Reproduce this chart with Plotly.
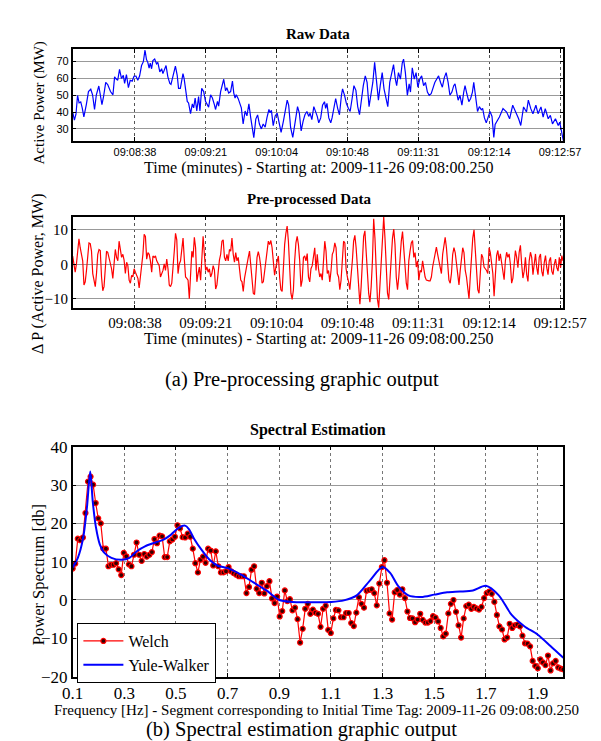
import plotly.graph_objects as go

# ---------------- DATA ----------------
# Raw data: (seconds after 09:08:00.250, MW)
raw_samples = [
(0.1,39.6),(1.05,35.2),(2.0,38.7),(2.96,49.8),(3.9,45.4),(4.9,46.0),(5.8,42.5),(6.8,37.1),(8.3,44.4),(9.6,52.1),
(11.0,53.5),(12.1,50.2),(13.3,41.5),(14.4,50.2),(15.9,55.4),(17.1,48.3),(17.8,44.4),(18.8,49.2),(20.1,57.5),(21.3,56.3),
(22.0,54.0),(23.0,52.1),(24.5,50.2),(25.5,60.8),(26.2,59.8),(27.4,58.8),(28.5,65.2),(29.7,59.8),(30.8,61.7),(31.6,56.9),
(32.7,62.1),(33.9,54.4),(35.0,58.8),(36.2,58.3),(37.3,61.2),(38.5,61.3),(39.6,58.8),(40.7,61.3),(41.9,67.5),(43.0,69.8),
(44.0,76.7),(44.9,71.0),(45.7,69.4),(46.5,66.0),(47.2,69.0),(48.0,65.6),(48.8,70.4),(49.9,71.3),(51.0,68.5),(51.8,69.4),
(53.0,63.7),(54.1,65.6),(54.9,62.7),(56.0,65.6),(56.8,67.5),(57.9,60.8),(59.1,56.9),(59.8,56.3),(60.6,59.8),(61.7,63.7),
(62.5,67.1),(63.6,61.7),(64.4,54.0),(65.5,54.0),(66.3,58.8),(67.1,62.7),(67.8,59.8),(69.0,52.1),(69.7,46.3),(70.5,45.4),
(71.7,39.0),(72.8,44.8),(73.6,42.5),(74.5,48.3),(75.5,40.6),(76.6,49.2),(77.4,40.6),(78.5,54.0),(79.7,52.1),(80.8,46.3),
(81.6,44.4),(82.7,42.9),(83.9,50.2),(85.0,48.3),(86.2,44.4),(86.9,41.5),(88.1,46.3),(88.8,43.5),(90.0,52.1),(91.1,56.3),
(91.9,59.4),(93.0,52.5),(93.8,54.4),(94.9,51.2),(96.1,52.1),(97.2,58.3),(98.0,51.2),(98.8,48.3),(99.5,50.2),(100.7,47.9),
(101.4,46.3),(102.6,42.5),(103.7,32.9),(104.9,40.6),(106.0,37.7),(107.2,44.8),(108.3,36.7),(109.1,31.0),(110.2,24.8),(111.4,35.8),
(112.5,38.3),(113.6,32.9),(114.8,30.0),(115.9,32.9),(117.1,31.0),(118.2,36.7),(119.4,41.5),(120.1,39.6),(120.9,41.0),(122.0,31.9),
(123.2,37.7),(124.4,39.3),(125.3,34.6),(126.8,27.9),(128.2,34.6),(129.1,40.3),(130.5,47.0),(131.4,44.1),(132.6,30.7),(133.9,25.0),
(135.2,34.6),(136.8,43.2),(137.9,39.3),(139.0,28.8),(140.2,34.6),(141.3,38.4),(142.5,40.3),(143.6,37.4),(144.4,39.3),(145.5,35.5),
(146.7,43.2),(147.8,40.3),(148.8,37.4),(149.7,33.6),(150.9,36.5),(152.0,44.1),(153.2,46.1),(153.9,42.2),(154.7,45.1),(155.8,36.5),
(157.0,33.6),(157.8,36.5),(158.9,41.3),(160.0,48.0),(161.2,42.2),(162.3,38.4),(163.5,49.9),(164.2,53.7),(165.4,49.9),(166.5,45.1),
(167.7,42.2),(168.8,40.3),(170.0,48.0),(171.1,55.6),(172.3,52.8),(173.4,43.2),(174.5,38.4),(175.7,48.0),(176.8,55.6),(178.0,61.4),
(179.1,57.5),(180.3,43.2),(181.4,49.9),(182.6,57.5),(183.7,69.4),(184.9,57.5),(186.0,47.0),(187.1,55.6),(188.3,63.3),(189.4,53.7),
(190.6,48.0),(191.7,43.2),(192.9,57.5),(194.0,62.3),(195.2,68.1),(196.3,59.5),(197.1,55.6),(198.2,63.3),(199.4,59.5),(200.5,69.0),
(201.3,71.3),(202.4,63.3),(203.6,49.9),(204.7,56.6),(205.5,51.8),(206.6,66.2),(207.8,59.5),(208.9,63.3),(210.0,54.7),(211.2,59.5),
(212.3,61.4),(213.5,55.6),(214.6,57.5),(215.8,51.8),(216.9,49.9),(218.1,50.8),(219.2,54.7),(220.3,57.5),(221.5,59.5),(222.6,61.4),
(223.8,57.5),(224.9,54.7),(226.1,60.4),(227.2,63.3),(228.4,57.5),(229.5,49.9),(230.7,51.8),(231.8,55.6),(232.6,56.6),(233.3,53.7),
(234.5,47.0),(235.6,49.9),(236.8,44.1),(237.9,51.8),(238.7,55.6),(239.8,50.8),(241.0,46.1),(242.1,48.0),(243.2,51.8),(244.0,57.5),
(245.2,48.0),(246.3,40.3),(247.4,43.2),(248.6,41.3),(249.4,42.2),(250.5,36.5),(251.6,33.6),(252.8,37.4),(253.9,40.3),(255.1,37.4),
(256.2,25.0),(257.0,32.6),(259.6,37.0),(261.8,42.0),(264.0,40.0),(265.8,36.0),(267.7,44.0),(269.5,40.0),(271.3,36.0),(272.6,32.0),
(274.3,43.0),(276.1,40.0),(277.2,47.0),(278.7,42.0),(280.0,39.0),(281.8,44.0),(283.1,39.0),(284.9,43.0),(286.2,37.0),(287.5,42.0),
(289.3,36.0),(290.6,38.0),(291.9,33.0),(293.7,36.0),(295.4,32.0),(296.3,34.0),(297.6,28.0),(298.5,23.0),
]

# Pre-processed data, sampled every pre_dt seconds from the start
pre_dt = 0.763
pre_dp = [
2.4,-0.4,-2.3,0.1,3.8,7.4,4.8,2.9,1.0,-6.0,-5.1,-1.8,2.9,6.2,6.0,3.8,-2.7,-5.1,-6.5,-2.7,
2.9,4.3,4.0,-3.7,-7.7,-6.5,-1.3,3.8,3.4,2.0,0.1,-1.3,-4.1,0.6,4.3,2.0,1.0,6.7,3.8,2.0,
2.9,1.2,-2.7,0.6,-0.4,-4.6,-5.5,-3.2,-3.7,-1.3,-2.3,-3.2,-4.1,-6.9,-3.7,1.0,2.9,8.7,8.1,1.5,
3.4,2.9,1.0,-2.3,2.4,2.0,2.4,1.0,0.1,-0.4,-3.7,-2.7,-1.8,0.1,-1.8,1.5,-1.3,-6.0,-6.5,-5.5,
-1.8,3.8,9.0,7.1,-2.7,0.1,1.0,3.8,7.6,1.5,-3.7,-4.1,-4.6,-10.0,-3.7,3.8,2.0,7.8,4.8,-5.1,
-2.7,-0.8,-4.6,2.0,8.1,2.9,-1.8,-0.8,-2.3,-1.3,-3.7,-2.7,-0.4,-1.6,-7.2,-6.0,-1.8,1.2,2.9,6.7,
7.1,2.0,1.0,2.9,1.0,4.3,3.8,7.6,2.9,0.6,3.4,1.0,2.0,-0.8,-4.6,-5.1,-7.9,-4.1,-1.8,1.0,
2.0,3.8,0.1,-4.1,-8.4,-8.8,-2.7,2.0,3.7,2.0,-0.8,-5.5,-5.1,-1.8,1.0,3.8,6.7,5.7,6.9,4.8,
0.1,-3.2,-0.8,1.0,2.4,
-3.7,-7.4,-7.9,0.1,5.7,9.0,11.1,6.7,-1.8,-8.4,-10.2,-7.4,1.0,6.2,8.1,5.7,1.0,-6.5,-4.6,2.0,
2.4,1.0,3.1,-3.7,-5.1,-1.3,-0.4,2.9,4.8,-1.8,2.9,-1.3,-3.7,-2.7,-4.6,1.0,6.7,3.8,-2.7,-1.8,
-5.1,-1.8,2.9,3.8,6.2,4.8,-2.7,-3.7,-7.4,-4.6,2.9,6.7,6.2,-1.3,-3.7,-5.1,-7.4,-3.7,1.0,6.7,
8.4,4.8,-1.8,-6.5,-11.6,-6.5,3.8,8.1,9.7,3.8,-3.7,-8.4,-11.0,-6.5,1.0,13.2,7.6,-0.8,-10.2,-12.6,
-5.5,1.0,9.5,13.7,7.6,-1.8,-8.4,-10.2,-3.7,3.8,7.6,10.2,5.7,-3.7,-7.4,-3.7,2.9,6.7,9.5,4.8,
-2.7,-5.5,-7.4,1.0,3.8,6.2,6.9,2.0,3.4,-0.8,1.0,-4.6,-1.8,-2.3,1.0,-1.8,-3.7,-4.6,-4.8,-4.8,
-4.8,-3.7,-0.8,1.0,2.9,5.0,2.9,1.0,-0.8,-2.7,2.9,6.2,7.8,4.8,-1.8,-4.6,-5.5,-2.7,2.9,4.8,
3.4,0.1,-3.7,-6.0,-1.8,2.9,4.8,3.4,-1.8,-3.7,-7.4,-10.0,-3.7,2.0,7.6,10.0,2.9,-2.7,-7.4,-8.4,
-1.8,2.9,2.0,-0.8,-1.3,-1.8,-2.7,4.8,3.4,1.0,-2.7,-9.3,
-4.0,2.5,4.0,1.0,3.0,0.5,-2.0,-4.5,1.0,3.5,2.0,3.0,0.0,-5.5,-4.0,0.0,4.0,2.0,-1.0,3.5,
5.5,0.0,-4.0,-2.0,2.0,-3.0,-5.0,1.0,3.5,2.0,-3.0,0.0,3.0,-1.0,-3.0,2.0,3.0,-2.0,-3.5,0.5,
2.5,-1.0,-3.0,1.0,2.0,-2.0,-3.0,0.0,1.5,-1.0,-2.0,2.0,-1.0,2.5,1.0,
]

time_tick_s = [37.9, 81.0, 124.1, 167.2, 210.3, 253.4, 296.5]
time_tick_labels = ["09:08:38", "09:09:21", "09:10:04", "09:10:48", "09:11:31", "09:12:14", "09:12:57"]

# Spectral estimation
welch_db = [
8.2,9.5,16.0,15.6,16.3,22.7,30.9,32.2,30.1,25.3,21.3,20.0,13.4,13.4,8.8,9.2,9.2,9.6,8.0,6.5,
12.3,11.4,9.3,8.8,11.8,15.0,11.8,10.2,12.0,11.3,11.8,12.5,15.9,14.8,16.8,16.6,11.2,11.2,15.3,15.8,
16.5,19.5,18.7,16.4,16.3,17.3,16.5,13.4,9.6,7.2,10.5,11.3,9.7,13.4,12.9,9.0,12.7,8.8,7.2,7.2,
7.5,8.6,7.5,7.0,6.6,6.2,6.2,6.2,1.8,3.4,7.9,8.8,2.9,1.8,4.5,1.7,3.6,4.9,0.4,-0.8,
0.9,-4.3,-2.9,2.5,-0.3,0.2,-2.7,-2.0,-5.0,-11.1,-7.5,-2.3,-1.0,-3.6,-2.5,-3.3,-3.6,-7.0,-2.3,-1.5,
-7.8,-8.6,-4.8,-2.6,-2.7,-4.5,-4.5,-3.4,-3.4,-6.0,-6.8,-3.3,0.7,-1.0,-2.0,2.4,2.6,2.8,1.8,-1.4,
4.3,8.6,10.4,4.5,-3.5,-5.1,2.0,2.6,1.4,2.8,0.5,-3.0,-4.7,-4.8,-5.8,-5.1,-3.6,-5.2,-5.9,-5.9,
-5.5,-4.2,-4.6,-5.6,-7.3,-9.5,-8.8,-3.5,-1.0,0.0,-3.1,-6.6,-9.8,-4.8,-1.6,-1.2,-2.3,-1.8,-2.2,-2.5,
-1.8,0.5,1.8,2.2,1.6,-0.5,-3.9,-6.9,-7.7,-10.3,-9.8,-6.2,-7.3,-6.6,-6.4,-6.9,-9.3,-11.3,-11.4,-12.1,
-15.9,-17.2,-17.8,-15.5,-16.3,-17.0,-14.5,-18.4,-16.5,-15.9,-17.6,-17.9,-18.1,
]
welch_f_start, welch_f_end = 0.1, 2.0

yw_f = [0.10,0.12,0.14,0.155,0.168,0.178,0.19,0.205,0.22,0.25,0.29,0.32,0.35,0.38,0.42,0.45,0.48,0.51,0.535,0.55,
        0.57,0.60,0.63,0.66,0.70,0.75,0.80,0.85,0.90,0.95,1.00,1.05,1.10,1.15,1.20,1.25,1.30,1.33,1.36,1.40,
        1.45,1.50,1.55,1.60,1.65,1.70,1.75,1.80,1.85,1.90,1.95,2.00]
yw_db = [8.5,11.0,16.0,24.0,33.5,25.5,19.0,14.5,12.5,11.0,10.5,11.0,12.8,14.0,15.0,15.7,17.0,18.8,19.4,18.5,
         16.0,13.0,10.5,9.0,8.3,6.7,4.6,2.5,0.0,-0.5,-0.6,-0.6,-0.5,-0.1,1.2,5.0,8.6,7.0,3.7,1.2,
         0.8,1.4,2.0,2.2,2.5,3.7,1.2,-3.9,-6.9,-9.0,-12.0,-15.1]

spec_ticks = [0.1, 0.3, 0.5, 0.7, 0.9, 1.1, 1.3, 1.5, 1.7, 1.9]

# ---------------- FIGURE ----------------
W, H = 601, 741
def px_x(x):
    return x / W
def px_y(y):
    return 1 - y / H

SERIF = "Times New Roman, Liberation Serif, Tinos, DejaVu Serif, serif"
SANS = "Arial, Liberation Sans, Arimo, Helvetica, sans-serif"

raw_t = [s[0] for s in raw_samples]
raw_v = [s[1] for s in raw_samples]
pre_t = [i * pre_dt for i in range(len(pre_dp))]
n = len(welch_db)
welch_f = [welch_f_start + (welch_f_end - welch_f_start) * i / (n - 1) for i in range(n)]

fig = go.Figure()
fig.add_trace(go.Scatter(x=raw_t, y=raw_v, mode="lines", line=dict(color="#0000ff", width=1.2),
                         xaxis="x", yaxis="y", showlegend=False))
fig.add_trace(go.Scatter(x=pre_t, y=pre_dp, mode="lines", line=dict(color="#ff0000", width=1.2),
                         xaxis="x2", yaxis="y2", showlegend=False))
fig.add_trace(go.Scatter(x=welch_f, y=welch_db, mode="lines+markers", name="Welch",
                         line=dict(color="#ff0000", width=1.2),
                         marker=dict(symbol="circle", size=5, color="#330000",
                                     line=dict(color="#ff0000", width=1.2)),
                         xaxis="x3", yaxis="y3"))
fig.add_trace(go.Scatter(x=yw_f, y=yw_db, mode="lines", name="Yule-Walker",
                         line=dict(color="#0000ff", width=2, shape="spline", smoothing=0.8),
                         xaxis="x3", yaxis="y3"))

xd = [px_x(57), px_x(578)]
axis_common = dict(showline=True, linecolor="black", linewidth=1.5, mirror="allticks",
                   ticks="inside", ticklen=4, tickcolor="black", zeroline=False)

fig.update_layout(
    width=W, height=H, margin=dict(l=0, r=0, t=0, b=0),
    paper_bgcolor="white", plot_bgcolor="white",
    xaxis=dict(domain=xd, anchor="y", range=[0, 298.5], tickmode="array",
               tickvals=time_tick_s, ticktext=time_tick_labels,
               tickfont=dict(family=SANS, size=11, color="black"),
               showgrid=True, gridcolor="#555555", griddash="dot", gridwidth=1, **axis_common),
    yaxis=dict(domain=[px_y(127), px_y(33)], anchor="x", range=[23, 77.2],
               tickvals=[30, 40, 50, 60, 70],
               tickfont=dict(family=SANS, size=11, color="black"),
               showgrid=True, gridcolor="#999999", gridwidth=1, **axis_common),
    xaxis2=dict(domain=xd, anchor="y2", range=[0, 298.5], tickmode="array",
                tickvals=time_tick_s, ticktext=time_tick_labels,
                tickfont=dict(family=SERIF, size=15, color="black"),
                showgrid=True, gridcolor="#555555", griddash="dot", gridwidth=1, **axis_common),
    yaxis2=dict(domain=[px_y(299), px_y(205)], anchor="x2", range=[-12.8, 13.8],
                tickvals=[-10, 0, 10],
                tickfont=dict(family=SERIF, size=15, color="black"),
                showgrid=True, gridcolor="#999999", gridwidth=1, **axis_common),
    xaxis3=dict(domain=xd, anchor="y3", range=[0.1, 2.0], tickmode="array",
                tickvals=spec_ticks, ticktext=[f"{v:.1f}" for v in spec_ticks],
                tickfont=dict(family=SERIF, size=17, color="black"),
                showgrid=True, gridcolor="#777777", griddash="dot", gridwidth=1, **axis_common),
    yaxis3=dict(domain=[px_y(677), px_y(441)], anchor="x3", range=[-20, 40],
                tickvals=[-20, -10, 0, 10, 20, 30, 40],
                tickfont=dict(family=SERIF, size=17, color="black"),
                showgrid=True, gridcolor="#999999", gridwidth=1, **axis_common),
    legend=dict(x=px_x(62), y=px_y(622), xanchor="left", yanchor="top",
                bgcolor="white", bordercolor="black", borderwidth=1,
                font=dict(family=SERIF, size=16, color="black"),
                tracegroupgap=0, itemwidth=40),
)

def text(x, y, s, size, bold=False, angle=0, family=SERIF):
    fig.add_annotation(x=px_x(x), y=px_y(y), xref="paper", yref="paper", text=(f"<b>{s}</b>" if bold else s),
                       showarrow=False, textangle=angle, xanchor="center", yanchor="middle",
                       font=dict(family=family, size=size, color="black"))

text(318, 17, "Raw Data", 15, bold=True)
text(318, 155, "Time (minutes) - Starting at: 2009-11-26 09:08:00.250", 16)
text(22, 88, "Active Power (MW)", 15, angle=-90)

text(308, 187, "Pre-processed Data", 15, bold=True)
text(318, 330, "Time (minutes) - Starting at: 2009-11-26 09:08:00.250", 16)
text(20, 263, "Δ P (Active Power, MW)", 16, angle=-90)

text(301, 372, "(a) Pre-processing graphic output", 20.5)

text(318, 424, "Spectral Estimation", 16, bold=True)
text(316, 711, "Frequency [Hz] - Segment corresponding to Initial Time Tag: 2009-11-26 09:08:00.250", 15)
text(20, 572, "Power Spectrum [db]", 16.5, angle=-90)

text(300, 731, "(b) Spectral estimation graphic output", 20.5)

fig.write_html("out.html")
